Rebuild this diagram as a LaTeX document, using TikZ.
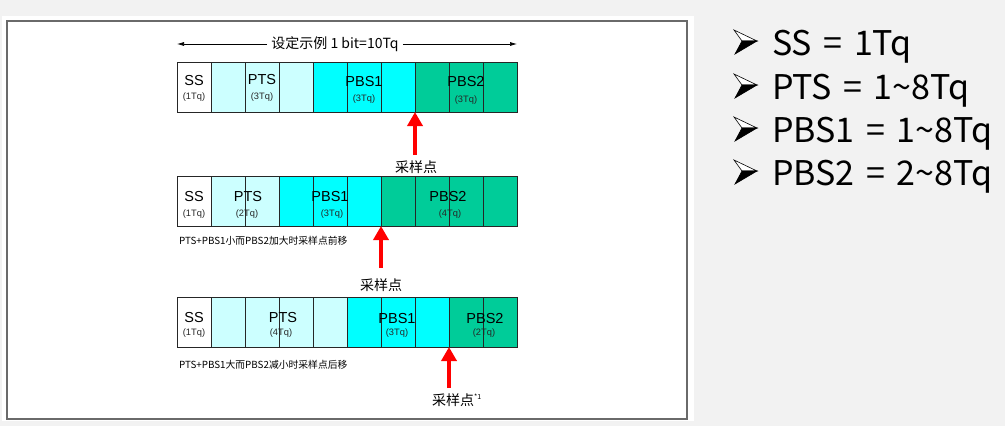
\documentclass[tikz,border=0pt]{standalone}
\usepackage{fontspec}
\setmainfont{Liberation Sans}
\newfontfamily\cjk{Noto Sans CJK SC}
\usetikzlibrary{arrows.meta}
\definecolor{pagegray}{HTML}{F2F2F2}
\definecolor{framegray}{HTML}{6A6A6A}
\definecolor{ssc}{HTML}{FFFFFF}
\definecolor{ptsc}{HTML}{CCFFFF}
\definecolor{pbsa}{HTML}{00FFFF}
\definecolor{pbsb}{HTML}{00CC99}
\newcommand\eqgap{\hspace{11.5pt}}
\begin{document}
\begin{tikzpicture}[x=1pt,y=-1pt,
  cell/.style={draw=black!85, line width=0.8pt, minimum width=34pt, minimum height=50pt,
    inner sep=0pt, outer sep=0pt, anchor=north west},
  seg/.style={font=\fontsize{14.5}{14.5}\selectfont, inner sep=0pt},
  sub/.style={font=\fontsize{9.3}{9.3}\selectfont, text=black!85, inner sep=0pt},
  note/.style={font=\cjk\fontsize{9.8}{9.8}\selectfont, inner sep=0pt, anchor=west},
  smp/.style={font=\cjk\fontsize{14}{14}\selectfont, inner sep=0pt},
  sample/.style={draw=red, line width=3.5pt, -{Triangle[width=15pt,length=14pt]}},
  span/.style={line width=0.7pt, -{Latex[length=7pt,width=4pt]}},
  item/.style={font=\cjk\fontsize{34}{34}\selectfont, anchor=base west, inner sep=0pt},
  bulletlit/.style={fill=white, draw=black, line width=0.6pt, line join=miter},
  bulletdark/.style={fill=black, draw=black, line width=0.6pt, line join=miter}
]
% page and framed panel
\fill[pagegray] (0,0) rectangle (1005,426);
\fill[white] (2,16) rectangle (694,421);
\draw[framegray, line width=1.5pt] (7,21) rectangle (687,419);

% bit length span
\node[font=\cjk\fontsize{14}{14}\selectfont, inner sep=4pt] (bit) at (335,44) {设定示例 1 bit=10Tq};
\coordinate (bitL) at (177,44);
\coordinate (bitR) at (517,44);
\draw[span] (bit.west) -- (bitL);
\draw[span] (bit.east) -- (bitR);

% three rows of ten time quanta
\foreach \row/\y/\cols in {
  1/62/{ssc,ptsc,ptsc,ptsc,pbsa,pbsa,pbsa,pbsb,pbsb,pbsb},
  2/176/{ssc,ptsc,ptsc,pbsa,pbsa,pbsa,pbsb,pbsb,pbsb,pbsb},
  3/297/{ssc,ptsc,ptsc,ptsc,ptsc,pbsa,pbsa,pbsa,pbsb,pbsb}} {
  \foreach \c [count=\i] in \cols {
    \node[cell, fill=\c] (r\row-\i) at ({177+34*(\i-1)},\y) {};
  }
}

% row 1 labels
\node[seg] (ss1) at (194,81) {SS};
\node[sub] (ss1t) at (194,97) {(1Tq)};
\node[seg] (pts1) at (262,80) {PTS};
\node[sub] (pts1t) at (262,97) {(3Tq)};
\node[seg] (pa1) at (364,82) {PBS1};
\node[sub] (pa1t) at (364,99) {(3Tq)};
\node[seg] (pb1) at (466,82) {PBS2};
\node[sub] (pb1t) at (466,100) {(3Tq)};

% row 2 labels
\node[seg] (ss2) at (194,197) {SS};
\node[sub] (ss2t) at (194,214) {(1Tq)};
\node[seg] (pts2) at (248,197) {PTS};
\node[sub] (pts2t) at (247,214) {(2Tq)};
\node[seg] (pa2) at (330,197) {PBS1};
\node[sub] (pa2t) at (332,214) {(3Tq)};
\node[seg] (pb2) at (448,197) {PBS2};
\node[sub] (pb2t) at (450,214) {(4Tq)};
\node[note] (n2) at (179,241) {PTS+PBS1小而PBS2加大时采样点前移};

% row 3 labels
\node[seg] (ss3) at (194,318) {SS};
\node[sub] (ss3t) at (194,333) {(1Tq)};
\node[seg] (pts3) at (283,318) {PTS};
\node[sub] (pts3t) at (281,333) {(4Tq)};
\node[seg] (pa3) at (397,319) {PBS1};
\node[sub] (pa3t) at (397,333) {(3Tq)};
\node[seg] (pb3) at (485,319) {PBS2};
\node[sub] (pb3t) at (484,333) {(2Tq)};
\node[note] (n3) at (179,365) {PTS+PBS1大而PBS2减小时采样点后移};

% sample points
\coordinate (s1) at (415,155);
\draw[sample] (s1) -- (r1-7.south east);
\node[smp] (l1) at (416,167) {采样点};
\coordinate (s2) at (381,268);
\draw[sample] (s2) -- (r2-6.south east);
\node[smp] (l2) at (381,285) {采样点};
\coordinate (s3) at (449,388);
\draw[sample] (s3) -- (r3-8.south east);
\node[smp, anchor=west] (l3) at (432,400) {采样点\raisebox{0.45em}{\fontsize{7}{7}\selectfont *1}};

% value ranges, each led by a shaded arrowhead bullet
\foreach \by in {41,85,128,171} {
  \draw[bulletlit] (734,\by-11) -- (757,\by) -- (742,\by) -- cycle;
  \draw[bulletdark] (742,\by) -- (757,\by) -- (735,\by+13) -- cycle;
}
\node[item] (i1) at (772,55) {SS\eqgap=\eqgap1Tq};
\node[item] (i2) at (772,99) {PTS\eqgap=\eqgap1\textasciitilde 8Tq};
\node[item] (i3) at (772,142) {PBS1\eqgap=\eqgap1\textasciitilde 8Tq};
\node[item] (i4) at (772,185) {PBS2\eqgap=\eqgap2\textasciitilde 8Tq};
\end{tikzpicture}
\end{document}
